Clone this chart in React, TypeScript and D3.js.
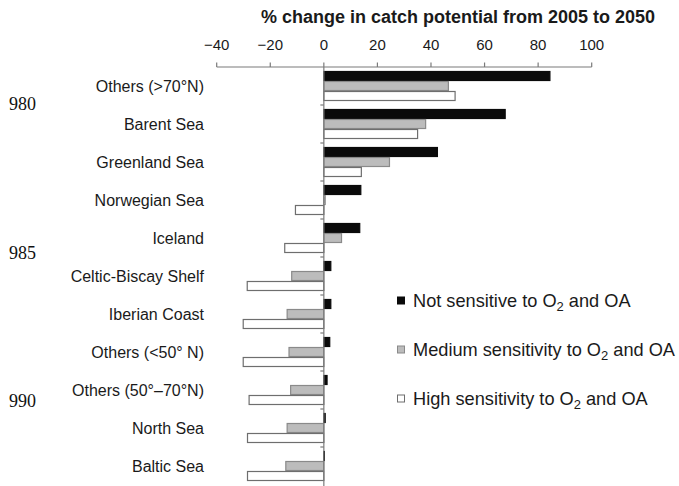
import React from "react";
import * as d3 from "d3";

// Regions, top to bottom
const regions = [
  "Others (>70°N)",
  "Barent Sea",
  "Greenland Sea",
  "Norwegian Sea",
  "Iceland",
  "Celtic-Biscay Shelf",
  "Iberian Coast",
  "Others (<50° N)",
  "Others (50°–70°N)",
  "North Sea",
  "Baltic Sea",
];

// % change in catch potential, 2005 → 2050, per sensitivity group
const notSensitive = [84.4, 67.7, 42.4, 13.8, 13.4, 2.6, 2.6, 2.2, 1.2, 0.5, 0.2];
const mediumSensitivity = [46.5, 38, 24.5, 0.5, 6.6, -12, -13.7, -13, -12.4, -13.7, -14.2];
const highSensitivity = [49, 35, 14, -10.6, -14.6, -28.6, -30.1, -30.1, -27.9, -28.5, -28.5];

const xTicks = [-40, -20, 0, 20, 40, 60, 80, 100];
const seriesKeys = ["not", "medium", "high"];
const seriesLabels = ["Not sensitive", "Medium sensitivity", "High sensitivity"];

// Page line numbers printed in the left margin
const lineNumbers = ["980", "985", "990"];

const W = 679;
const H = 486;
const FONT = "'Liberation Sans', Arial, Helvetica, sans-serif";

const fills: Record<string, string> = { not: "#0a0a0a", medium: "#bcbcbc", high: "#ffffff" };
const strokes: Record<string, string> = { not: "#0a0a0a", medium: "#8a8a8a", high: "#6e6e6e" };

export default function App() {
  const x = d3.scaleLinear().domain([-40, 100]).range([216.7, 591.7]);
  const y = d3
    .scaleBand<string>()
    .domain(regions)
    .range([67, 485])
    .paddingInner(8 / 38)
    .paddingOuter(4 / 38);
  const sub = d3.scaleBand<string>().domain(seriesKeys).range([0, y.bandwidth()]);

  const values: Record<string, number[]> = {
    not: notSensitive,
    medium: mediumSensitivity,
    high: highSensitivity,
  };

  const x0 = x(0);
  const axisY = 67;
  const step = y.step();
  const boundaries = d3.range(1, regions.length).map((i) => axisY + i * step);

  const legendY = d3.scalePoint<string>().domain(seriesKeys).range([300.5, 398.5]);

  return (
    <svg
      width={W}
      height={H}
      style={{ position: "absolute", left: 0, top: 0, background: "#fff" }}
      fontFamily={FONT}
    >
      <rect width={W} height={H} fill="#fff" />

      {/* title */}
      <text x={458} y={23} textAnchor="middle" fontSize={18} fontWeight="bold" fill="#1a1a1a">
        % change in catch potential from 2005 to 2050
      </text>

      {/* top axis */}
      <line x1={x(-40)} x2={x(100)} y1={axisY} y2={axisY} stroke="#7a7a7a" strokeWidth={1.2} />
      {xTicks.map((t) => (
        <g key={t}>
          <line x1={x(t)} x2={x(t)} y1={axisY} y2={axisY - 4.5} stroke="#7a7a7a" strokeWidth={1.2} />
          <text x={x(t)} y={50} textAnchor="middle" fontSize={15} fill="#1a1a1a">
            {d3.format("")(t)}
          </text>
        </g>
      ))}

      {/* bars */}
      {regions.map((r, i) => (
        <g key={r} transform={`translate(0,${y(r)})`}>
          {seriesKeys.map((k) => {
            const v = values[k][i];
            const xa = Math.min(x(v), x0);
            const w = Math.abs(x(v) - x0);
            return (
              <rect
                key={k}
                x={xa}
                y={sub(k)! + 0.5}
                width={w}
                height={sub.bandwidth() - 1}
                fill={fills[k]}
                stroke={strokes[k]}
                strokeWidth={1.2}
              />
            );
          })}
        </g>
      ))}

      {/* zero line and band ticks */}
      <line x1={x0} x2={x0} y1={axisY} y2={H} stroke="#7a7a7a" strokeWidth={1.2} />
      {boundaries.map((b, i) => (
        <line key={i} x1={x0 - 3.5} x2={x0} y1={b} y2={b} stroke="#7a7a7a" strokeWidth={1.2} />
      ))}

      {/* category labels */}
      {regions.map((r) => (
        <text
          key={r}
          x={204}
          y={y(r)! + y.bandwidth() / 2 + 5.5}
          textAnchor="end"
          fontSize={16}
          fill="#1a1a1a"
        >
          {r}
        </text>
      ))}

      {/* legend */}
      {seriesKeys.map((k, i) => (
        <g key={k}>
          <rect
            x={397.5}
            y={legendY(k)! - 3.5}
            width={7}
            height={7}
            fill={fills[k]}
            stroke={strokes[k]}
            strokeWidth={1}
          />
          <text x={413} y={legendY(k)! + 6.5} fontSize={18.2} fill="#1a1a1a">
            {seriesLabels[i]} to O
            <tspan fontSize={13} dy={4}>
              2
            </tspan>
            <tspan dy={-4}> and OA</tspan>
          </text>
        </g>
      ))}

      {/* margin line numbers */}
      {lineNumbers.map((n, i) => (
        <text
          key={n}
          x={9}
          y={110 + i * 148.5}
          fontSize={18}
          fontFamily="'Liberation Serif', 'Times New Roman', serif"
          fill="#111"
        >
          {n}
        </text>
      ))}
    </svg>
  );
}
